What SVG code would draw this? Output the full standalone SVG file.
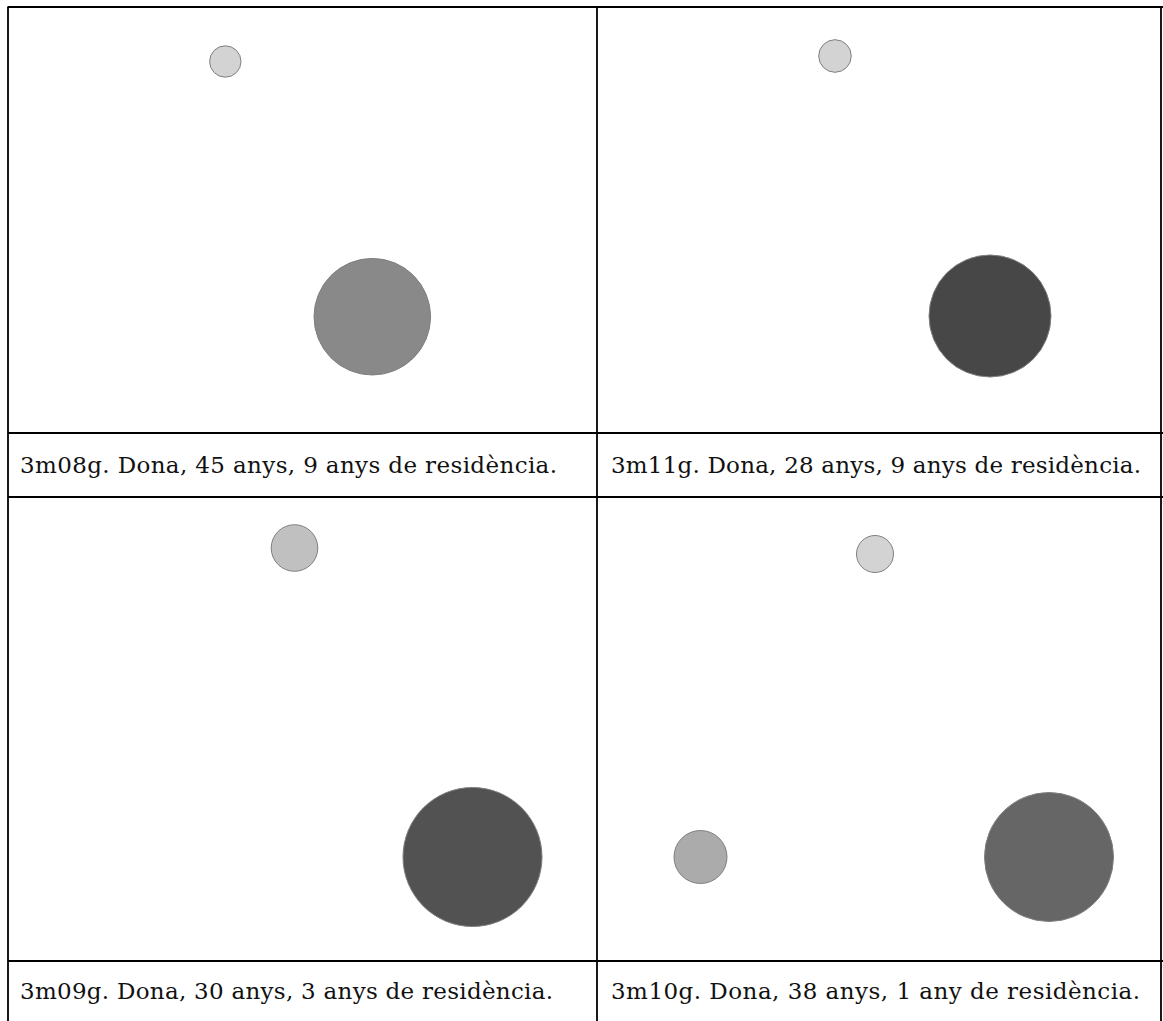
<svg xmlns="http://www.w3.org/2000/svg" width="1163" height="1021" viewBox="0 0 1163 1021">
<style>
.grid{stroke:#000;stroke-width:1.8;fill:none}
.c{stroke:#7f7f7f;stroke-width:1}
.cap{font-family:"DejaVu Serif","Liberation Serif",serif;font-size:23px;fill:#111}
</style>
<rect width="1163" height="1021" fill="#fff"/>
<g id="grid" class="grid">
<line x1="7.5" y1="7" x2="1163" y2="7"/>
<line x1="8" y1="7" x2="8" y2="1021"/>
<line x1="597" y1="7" x2="597" y2="1021"/>
<line x1="1161" y1="7" x2="1161" y2="1021"/>
<line x1="8" y1="433" x2="1163" y2="433"/>
<line x1="8" y1="497" x2="1163" y2="497"/>
<line x1="8" y1="961" x2="1163" y2="961"/>
</g>
<g id="panel-3m08g">
<circle class="c" cx="225.3" cy="61.5" r="15.7" fill="#d3d3d3"/>
<circle class="c" cx="372.3" cy="316.7" r="58.3" fill="#898989"/>
<text class="cap" x="20" y="473" textLength="537" lengthAdjust="spacing">3m08g. Dona, 45 anys, 9 anys de residència.</text>
</g>
<g id="panel-3m11g">
<circle class="c" cx="835" cy="56" r="16.3" fill="#d3d3d3"/>
<circle class="c" cx="990" cy="316" r="61" fill="#474747"/>
<text class="cap" x="611" y="473" textLength="530" lengthAdjust="spacing">3m11g. Dona, 28 anys, 9 anys de residència.</text>
</g>
<g id="panel-3m09g">
<circle class="c" cx="294.5" cy="548" r="23.3" fill="#c0c0c0"/>
<circle class="c" cx="472.5" cy="857" r="69.5" fill="#525252"/>
<text class="cap" x="20" y="999" textLength="533" lengthAdjust="spacing">3m09g. Dona, 30 anys, 3 anys de residència.</text>
</g>
<g id="panel-3m10g">
<circle class="c" cx="875" cy="554" r="18.5" fill="#d3d3d3"/>
<circle class="c" cx="700.5" cy="857" r="26.5" fill="#ababab"/>
<circle class="c" cx="1049" cy="857" r="64.5" fill="#666666"/>
<text class="cap" x="611" y="999" textLength="529" lengthAdjust="spacing">3m10g. Dona, 38 anys, 1 any de residència.</text>
</g>
</svg>
